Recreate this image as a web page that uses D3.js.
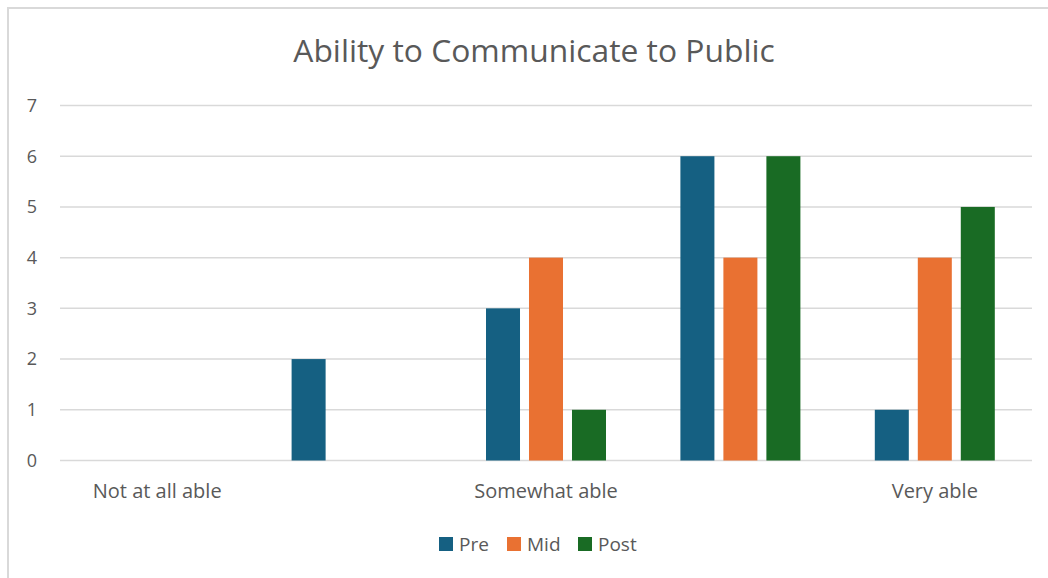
<!DOCTYPE html>
<html>
<head>
<meta charset="utf-8">
<script src="https://cdn.jsdelivr.net/npm/d3@7"></script>
<style>
  html, body { margin: 0; padding: 0; background: #fff; }
  svg { display: block; }
  text { font-family: "Open Sans", sans-serif; fill: #595959; }
</style>
</head>
<body>
<svg id="chart" width="1048" height="578"></svg>
<script>
// Survey responses by rating level
const categories = ["Not at all able", "", "Somewhat able", " ", "Very able"];
const seriesNames = ["Pre", "Mid", "Post"];
const preValues  = [0, 2, 3, 6, 1];
const midValues  = [0, 0, 4, 4, 4];
const postValues = [0, 0, 1, 6, 5];
const yTicks = [0, 1, 2, 3, 4, 5, 6, 7];
const colors = ["#156082", "#E97132", "#196B24"];

const seriesValues = [preValues, midValues, postValues];
const rows = categories.map((c, i) => ({
  category: c,
  values: seriesNames.map((s, j) => ({ series: s, value: seriesValues[j][i] }))
}));

const svg = d3.select("#chart");
const W = 1048, H = 578;
const plot = { left: 60, right: 1032, top: 105.5, bottom: 460.5 };

// chart frame
svg.append("rect")
  .attr("x", 8).attr("y", 8)
  .attr("width", W + 20).attr("height", H + 20)
  .attr("fill", "#fff")
  .attr("stroke", "#d9d9d9").attr("stroke-width", 2);

const x0 = d3.scaleBand().domain(categories).range([plot.left, plot.right]).padding(0);
const x1 = d3.scaleBand().domain(seriesNames).range([-60, 60]).paddingInner(0.209).paddingOuter(0);
const y = d3.scaleLinear().domain([0, 7]).range([plot.bottom, plot.top]);
const color = d3.scaleOrdinal().domain(seriesNames).range(colors);

// gridlines
svg.append("g")
  .selectAll("line")
  .data(yTicks)
  .join("line")
  .attr("x1", plot.left).attr("x2", plot.right)
  .attr("y1", d => y(d)).attr("y2", d => y(d))
  .attr("stroke", "#d9d9d9").attr("stroke-width", 1.5);

// y tick labels
svg.append("g")
  .selectAll("text")
  .data(yTicks)
  .join("text")
  .attr("x", 37)
  .attr("y", d => y(d))
  .attr("dy", "0.35em")
  .attr("text-anchor", "end")
  .style("font-size", "18px")
  .text(d => d);

// bars
const groups = svg.append("g")
  .selectAll("g")
  .data(rows)
  .join("g")
  .attr("transform", d => `translate(${x0(d.category) + x0.bandwidth() / 2},0)`);

groups.selectAll("rect")
  .data(d => d.values.filter(v => v.value > 0))
  .join("rect")
  .attr("x", d => x1(d.series))
  .attr("width", x1.bandwidth())
  .attr("y", d => y(d.value))
  .attr("height", d => y(0) - y(d.value))
  .attr("fill", d => color(d.series));

// category labels
svg.append("g")
  .selectAll("text")
  .data(categories)
  .join("text")
  .attr("x", d => x0(d) + x0.bandwidth() / 2)
  .attr("y", 498)
  .attr("text-anchor", "middle")
  .style("font-size", "20px")
  .text(d => d.trim());

// title
svg.append("text")
  .attr("x", 534)
  .attr("y", 62)
  .attr("text-anchor", "middle")
  .style("font-size", "31.8px")
  .text("Ability to Communicate to Public");

// legend
const legendItems = [
  { name: "Pre", x: 439 },
  { name: "Mid", x: 507 },
  { name: "Post", x: 578 }
];
const legend = svg.append("g")
  .selectAll("g")
  .data(legendItems)
  .join("g")
  .attr("transform", d => `translate(${d.x},537)`);
legend.append("rect")
  .attr("width", 14).attr("height", 14)
  .attr("fill", d => color(d.name));
legend.append("text")
  .attr("x", 20).attr("y", 7)
  .attr("dy", "0.36em")
  .style("font-size", "19px")
  .text(d => d.name);
</script>
</body>
</html>
